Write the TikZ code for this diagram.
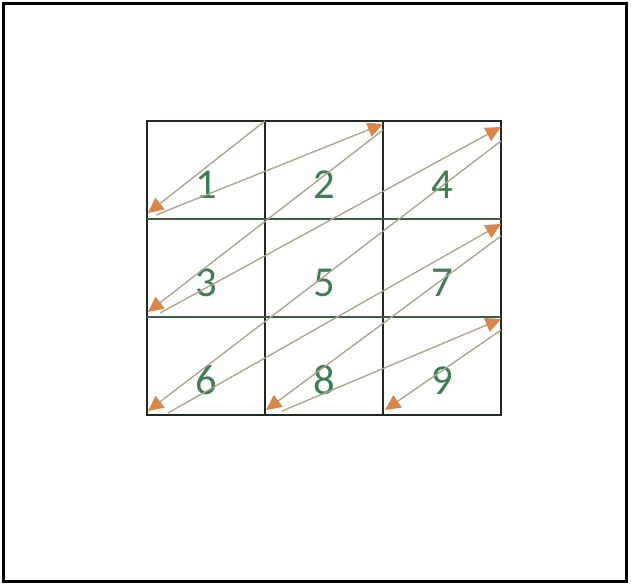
\documentclass[tikz,border=0pt]{standalone}
\usepackage{fontspec}
\setmainfont{Carlito}
\usepackage{xcolor}
\usetikzlibrary{arrows.meta, positioning}
\definecolor{cgrid}{HTML}{1f2a22}
\definecolor{crow}{HTML}{3b5e45}
\definecolor{cnum}{HTML}{3f7d55}
\definecolor{cline}{HTML}{aca38c}
\definecolor{ctip}{HTML}{d9864a}

\begin{document}
\begin{tikzpicture}[
  x=0.75pt, y=-0.75pt,
  node distance=0pt,
  cell/.style={draw=cgrid, line width=0.9pt, outer sep=0pt,
               minimum width=88.5pt, minimum height=73.5pt},
  num/.style={text=cnum, font=\fontsize{32}{32}\selectfont, inner sep=0pt},
  rowline/.style={draw=crow, line width=1.6pt},
  zig/.style={draw=cline, line width=1pt,
              -{Triangle[length=11.5pt, width=11pt, color=ctip]}},
]
\useasboundingbox (0,0) rectangle (631,585);
\draw[line width=2.3pt] (3.5,3.5) rectangle (626.5,581.5);
% row 1
\node[cell] (c1) at (206,170) {};
\node[cell, right=of c1] (c2) {};
\node[cell, right=of c2] (c4) {};
% row 2
\node[cell, below=of c1] (c3) {};
\node[cell, right=of c3] (c5) {};
\node[cell, right=of c5] (c7) {};
% row 3
\node[cell, below=of c3] (c6) {};
\node[cell, right=of c6] (c8) {};
\node[cell, right=of c8] (c9) {};
\draw[rowline] (c1.south west) -- (c4.south east);
\draw[rowline] (c3.south west) -- (c7.south east);

% numbers
\foreach \i in {1,...,9}
  \node[num] (n\i) at ([yshift=-10.9pt]c\i.center) {\i};

% zigzag
\draw[zig] (c1.north east) -- ([xshift=0.75pt, yshift=4.5pt]c1.south west);
\draw[zig] ([xshift=6.75pt, yshift=3pt]c1.south west) -- ([yshift=-2.25pt]c2.north east);
\draw[zig] ([yshift=-6.75pt]c2.north east) -- ([xshift=0.75pt, yshift=3.75pt]c3.south west);
\draw[zig] ([xshift=9.75pt, yshift=3pt]c3.south west) -- ([yshift=-4.5pt]c4.north east);
\draw[zig] ([yshift=-15pt]c4.north east) -- ([xshift=0.75pt, yshift=3pt]c6.south west);
\draw[zig] ([xshift=15.75pt, yshift=1.5pt]c6.south west) -- ([yshift=-3.75pt]c7.north east);
\draw[zig] ([yshift=-12.75pt]c7.north east) -- ([xshift=0.75pt, yshift=3.75pt]c8.south west);
\draw[zig] ([xshift=12.75pt, yshift=3pt]c8.south west) -- ([yshift=-1.5pt]c9.north east);
\draw[zig] ([yshift=-9.75pt]c9.north east) -- ([xshift=1.5pt, yshift=3.75pt]c9.south west);
\end{tikzpicture}
\end{document}
